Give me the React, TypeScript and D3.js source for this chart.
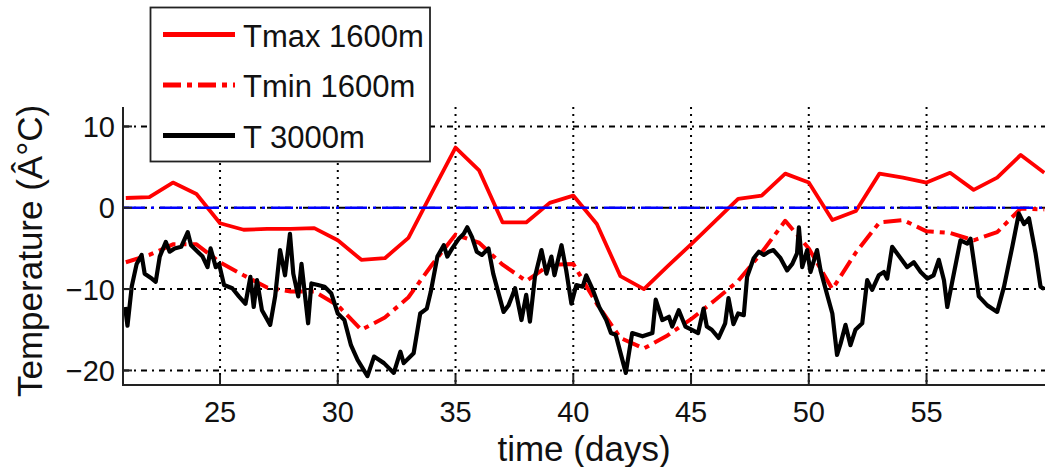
import React from 'react';
import * as d3 from 'd3';

const W = 1045;
const H = 467;
const PLOT_LEFT = 123;
const PLOT_RIGHT = 1045;
const PLOT_TOP = 107;
const PLOT_BOTTOM = 385;

const xTicks = [25, 30, 35, 40, 45, 50, 55];
const yTicks = [-20, -10, 0, 10];

// Daily maximum temperature at 1600 m
const tmaxDays = [21, 22, 23, 24, 25, 26, 27, 28, 29, 30, 31, 32, 33, 34, 35, 36, 37, 38, 39, 40,
  41, 42, 43, 44, 45, 46, 47, 48, 49, 50, 51, 52, 53, 54, 55, 56, 57, 58, 59, 60];
const tmaxValues = [1.2, 1.3, 3.1, 1.7, -1.9, -2.7, -2.6, -2.6, -2.5, -4.0, -6.4, -6.2, -3.7, 1.9, 7.4, 4.6, -1.8, -1.8, 0.6, 1.5,
  -2.0, -8.4, -10.0, -7.2, -4.5, -1.7, 1.1, 1.5, 4.2, 3.1, -1.5, -0.4, 4.2, 3.7, 3.1, 4.3, 2.2, 3.7, 6.5, 4.3];

// Daily minimum temperature at 1600 m
const tminDays = tmaxDays;
const tminValues = [-6.7, -5.8, -4.5, -4.5, -6.7, -8.3, -9.8, -10.3, -10.3, -12.0, -15.0, -13.5, -11.0, -7.0, -3.3, -4.3, -7.0, -9.0, -7.0, -6.9,
  -11.8, -16.0, -17.3, -15.7, -13.7, -11.4, -9.0, -5.5, -1.6, -5.0, -10.0, -5.5, -1.8, -1.5, -2.9, -3.1, -4.0, -3.0, -0.1, -0.2];

// Temperature record at 3000 m
const t3000Time = [20.97, 21.07, 21.25, 21.46, 21.67, 21.8, 22.1, 22.27, 22.44, 22.7, 22.86, 23.07, 23.35, 23.63, 23.77, 24.05, 24.26, 24.47, 24.6, 24.82,
  24.96, 25.17, 25.52, 25.8, 26.08, 26.29, 26.43, 26.57, 26.78, 27.13, 27.34, 27.55, 27.76, 27.97, 28.11, 28.32, 28.46, 28.74, 28.88, 29.16,
  29.44, 29.72, 30.0, 30.28, 30.56, 30.84, 31.26, 31.54, 31.96, 32.38, 32.66, 32.8, 33.22, 33.5, 33.78, 33.95, 34.23, 34.5, 34.65, 34.86,
  35.14, 35.35, 35.5, 35.7, 35.9, 36.12, 36.4, 36.6, 37.04, 37.25, 37.53, 37.8, 38.0, 38.16, 38.37, 38.65, 38.86, 39.07, 39.2, 39.5,
  39.7, 39.92, 40.13, 40.4, 40.55, 40.83, 41.1, 41.4, 41.6, 41.8, 42.23, 42.5, 42.94, 43.36, 43.5, 43.78, 44.06, 44.2, 44.48, 44.76,
  45.04, 45.3, 45.53, 45.67, 45.88, 46.17, 46.45, 46.59, 46.8, 47.0, 47.24, 47.38, 47.66, 47.88, 48.09, 48.3, 48.5, 48.8, 49.08, 49.3,
  49.5, 49.58, 49.72, 49.93, 50.07, 50.35, 50.5, 50.78, 51.0, 51.2, 51.35, 51.56, 51.77, 51.98, 52.27, 52.48, 52.69, 52.97, 53.19, 53.33,
  53.54, 53.9, 54.18, 54.46, 54.75, 55.03, 55.3, 55.52, 55.74, 55.88, 56.09, 56.44, 56.73, 56.87, 57.22, 57.58, 58.0, 58.29, 58.64, 58.92,
  59.14, 59.35, 59.63, 59.84, 60.0];
const t3000Temp = [-12.2, -14.5, -9.7, -6.9, -5.8, -8.1, -8.7, -9.1, -6.0, -4.2, -5.4, -5.0, -4.8, -3.0, -4.6, -5.4, -6.0, -7.3, -5.0, -7.3,
  -6.9, -9.5, -9.9, -10.9, -11.8, -8.5, -12.2, -8.9, -12.6, -14.4, -10.9, -5.2, -8.3, -3.2, -8.1, -10.9, -6.9, -14.2, -9.3, -9.5,
  -9.7, -10.5, -13.0, -13.8, -16.9, -18.7, -20.7, -18.3, -19.1, -20.3, -17.7, -19.1, -17.9, -13.0, -12.4, -10.3, -6.0, -4.6, -6.0, -5.0,
  -3.8, -3.2, -2.4, -3.6, -5.4, -5.8, -5.0, -8.1, -12.8, -12.0, -9.9, -13.8, -10.7, -14.0, -8.5, -5.2, -8.1, -6.0, -8.3, -4.6,
  -7.7, -11.8, -9.5, -9.7, -8.3, -10.1, -12.2, -13.8, -15.4, -15.6, -20.3, -15.4, -15.8, -15.4, -11.3, -13.8, -13.4, -14.6, -12.6, -14.6,
  -15.0, -15.4, -12.4, -14.6, -15.0, -16.0, -14.2, -11.1, -14.3, -13.0, -13.2, -8.5, -6.2, -5.4, -5.8, -5.4, -5.2, -6.2, -7.7, -6.9,
  -5.6, -2.4, -7.3, -5.2, -7.9, -5.2, -7.7, -10.7, -13.0, -18.1, -16.7, -14.4, -16.9, -15.0, -14.2, -8.9, -10.1, -8.3, -7.9, -8.7,
  -4.8, -6.2, -7.3, -6.7, -7.9, -8.7, -8.3, -6.4, -8.9, -12.2, -9.1, -4.0, -4.4, -3.8, -10.9, -12.0, -12.8, -9.7, -4.8, -0.7,
  -2.0, -1.3, -5.6, -9.7, -10.0];

const legendItems = [
  { label: 'Tmax 1600m', color: '#ff0000', dash: undefined as string | undefined },
  { label: 'Tmin 1600m', color: '#ff0000', dash: '18,6,5,6' },
  { label: 'T 3000m', color: '#000000', dash: undefined as string | undefined },
];

const FONT = '"Liberation Sans", Arial, Helvetica, sans-serif';

export default function App() {
  const x = d3.scaleLinear().domain([20.88, 60.03]).range([PLOT_LEFT, PLOT_RIGHT]);
  const y = d3.scaleLinear().domain([-21.79, 12.39]).range([PLOT_BOTTOM, PLOT_TOP]);

  const line = d3.line<[number, number]>().x((d) => x(d[0])).y((d) => y(d[1]));

  const tmaxPath = line(tmaxDays.map((d, i) => [d, tmaxValues[i]] as [number, number])) || '';
  const tminPath = line(tminDays.map((d, i) => [d, tminValues[i]] as [number, number])) || '';
  const t3000Path = line(t3000Time.map((d, i) => [d, t3000Temp[i]] as [number, number])) || '';

  const fmt = d3.format('d');

  return (
    <svg
      width={W}
      height={H}
      viewBox={`0 0 ${W} ${H}`}
      style={{ position: 'absolute', left: 0, top: 0, background: '#fff' }}
      fontFamily={FONT}
    >
      <defs>
        <clipPath id="plot-area">
          <rect x={PLOT_LEFT} y={PLOT_TOP} width={PLOT_RIGHT - PLOT_LEFT} height={PLOT_BOTTOM - PLOT_TOP} />
        </clipPath>
      </defs>
      <rect x={0} y={0} width={W} height={H} fill="#fff" />

      {/* grid */}
      <g>
        {xTicks.map((t) => (
          <line key={`gx${t}`} x1={x(t)} x2={x(t)} y1={PLOT_TOP} y2={PLOT_BOTTOM}
            stroke="#000" strokeWidth={2} strokeDasharray="2,5" />
        ))}
        {yTicks.map((t) => (
          <line key={`gy${t}`} x1={PLOT_LEFT} x2={PLOT_RIGHT} y1={y(t)} y2={y(t)}
            stroke="#000" strokeWidth={2} strokeDasharray="6,5,2,5" />
        ))}
      </g>

      {/* data */}
      <g clipPath="url(#plot-area)" fill="none" strokeLinejoin="round">
        <path d={tmaxPath} stroke="#ff0000" strokeWidth={3.8} />
        <path d={tminPath} stroke="#ff0000" strokeWidth={4} strokeDasharray="18,6,5,6" />
        <path d={t3000Path} stroke="#000" strokeWidth={4.2} />
        <line x1={PLOT_LEFT} x2={PLOT_RIGHT} y1={y(0)} y2={y(0)} stroke="#0000ff" strokeWidth={2.5}
          strokeDasharray="22,6,3,6" />
      </g>

      {/* axes */}
      <g stroke="#222" strokeWidth={2}>
        <line x1={PLOT_LEFT} x2={PLOT_LEFT} y1={PLOT_TOP} y2={PLOT_BOTTOM + 1} />
        <line x1={PLOT_LEFT} x2={PLOT_RIGHT} y1={PLOT_BOTTOM} y2={PLOT_BOTTOM} />
        {xTicks.map((t) => (
          <line key={`tx${t}`} x1={x(t)} x2={x(t)} y1={PLOT_BOTTOM} y2={PLOT_BOTTOM - 10} />
        ))}
        {yTicks.map((t) => (
          <line key={`ty${t}`} x1={PLOT_LEFT} x2={PLOT_LEFT + 9} y1={y(t)} y2={y(t)} />
        ))}
      </g>

      <g fontSize={29} fill="#111">
        {xTicks.map((t) => (
          <text key={`lx${t}`} x={x(t)} y={422} textAnchor="middle">{fmt(t)}</text>
        ))}
        {yTicks.map((t) => (
          <text key={`ly${t}`} x={115} y={y(t) + 10.5} textAnchor="end">{fmt(t)}</text>
        ))}
      </g>

      <text x={(PLOT_LEFT + PLOT_RIGHT) / 2} y={461} fontSize={35} textAnchor="middle" fill="#111">time (days)</text>
      <text transform="translate(42,397) rotate(-90)" fontSize={35} textAnchor="start" fill="#111">Temperature (Â°C)</text>

      {/* legend */}
      <g>
        <rect x={150.5} y={7.5} width={279.5} height={154} fill="#fff" stroke="#222" strokeWidth={1.8} />
        {legendItems.map((item, i) => {
          const ly = 34.5 + i * 50.5;
          return (
            <g key={item.label}>
              <line x1={163} x2={235} y1={ly} y2={ly} stroke={item.color} strokeWidth={5}
                strokeDasharray={item.dash} />
              <text x={243} y={ly + 12} fontSize={31} fill="#111">{item.label}</text>
            </g>
          );
        })}
      </g>
    </svg>
  );
}
